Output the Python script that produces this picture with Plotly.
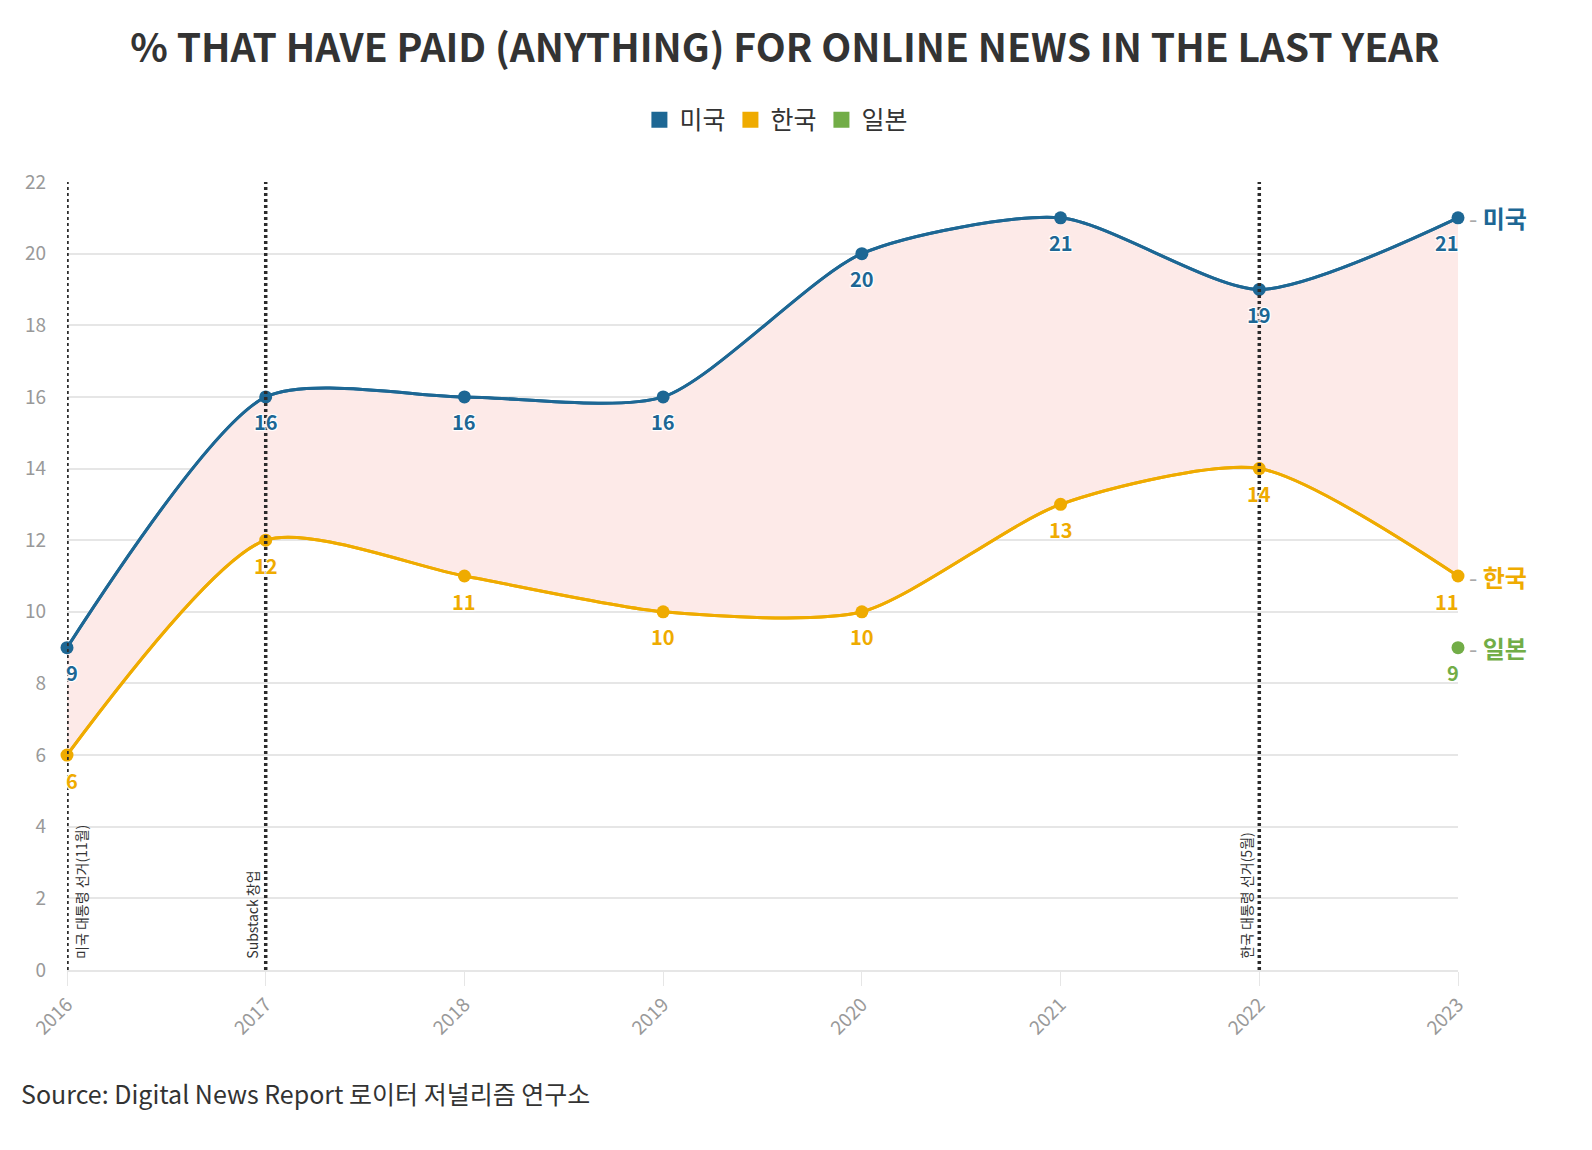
import plotly.graph_objects as go

years = [2016, 2017, 2018, 2019, 2020, 2021, 2022, 2023]
us = [9, 16, 16, 16, 20, 21, 19, 21]
kr = [6, 12, 11, 10, 10, 13, 14, 11]
jp_years = [2023]
jp = [9]

event_years = [2016, 2017, 2022]
event_labels = ["미국 대통령 선거(11월)", "Substack 창업", "한국 대통령 선거(5월)"]

C_US = "#1d6794"
C_KR = "#efab00"
C_JP = "#72ad47"
FILL = "#fdeae8"
FONT = "Noto Sans CJK KR"
HALO = "1px 1px 1px #fff, -1px -1px 1px #fff, 1px -1px 1px #fff, -1px 1px 1px #fff"
SMOOTH = 0.7

W, H = 1584, 1142  # page body has an 8px margin

fig = go.Figure()

fig.add_trace(go.Scatter(
    x=years, y=kr, mode="lines", line=dict(color=C_KR, width=3, shape="spline", smoothing=SMOOTH),
    showlegend=False, hoverinfo="skip"))
fig.add_trace(go.Scatter(
    x=years, y=us, mode="lines", line=dict(color=C_US, width=3, shape="spline", smoothing=SMOOTH),
    fill="tonexty", fillcolor=FILL, showlegend=False, hoverinfo="skip"))
fig.add_trace(go.Scatter(
    x=years, y=us, mode="lines+markers", line=dict(color=C_US, width=3, shape="spline", smoothing=SMOOTH),
    marker=dict(size=13, color=C_US), cliponaxis=False, showlegend=False, name="미국"))
fig.add_trace(go.Scatter(
    x=years, y=kr, mode="lines+markers", line=dict(color=C_KR, width=3, shape="spline", smoothing=SMOOTH),
    marker=dict(size=13, color=C_KR), cliponaxis=False, showlegend=False, name="한국"))
fig.add_trace(go.Scatter(
    x=jp_years, y=jp, mode="markers", marker=dict(size=13, color=C_JP),
    cliponaxis=False, showlegend=False, name="일본"))

# legend-only entries
for name, col in [("미국", C_US), ("한국", C_KR), ("일본", C_JP)]:
    fig.add_trace(go.Scatter(x=[None], y=[None], mode="markers", name=name,
                             marker=dict(symbol="square", size=20, color=col)))

# data labels
for xs, ys, col in [(years, us, C_US), (years, kr, C_KR), (jp_years, jp, C_JP)]:
    for xv, yv in zip(xs, ys):
        if xv == years[0]:
            anchor, shift = "left", -3
        elif xv == years[-1]:
            anchor, shift = "right", 3
        else:
            anchor, shift = "center", 0
        fig.add_annotation(x=xv, y=yv, xref="x", yref="y", text=f"<b>{yv}</b>", showarrow=False,
                           xanchor=anchor, yanchor="middle", xshift=shift, yshift=-25,
                           font=dict(size=20, color=col, family=FONT, shadow=HALO))

# event lines
for yr, lab in zip(event_years, event_labels):
    fig.add_shape(type="line", x0=yr, x1=yr, y0=0, y1=22, xref="x", yref="y",
                  line=dict(color="#2b2b2b", width=3.5, dash="3px,3px"), layer="above")
    left = yr == years[0]
    fig.add_annotation(x=yr, y=0, xref="x", yref="y", text=lab, textangle=-90,
                       showarrow=False, xanchor="left" if left else "right",
                       yanchor="bottom", xshift=2 if left else -2, yshift=9,
                       font=dict(size=14, color="#333333", family=FONT))

# end labels
for name, col, val in [("미국", C_US, us[-1]), ("한국", C_KR, kr[-1]), ("일본", C_JP, jp[-1])]:
    fig.add_annotation(x=years[-1], y=val, xref="x", yref="y",
                       text=f"<span style='color:#aaaaaa;font-weight:normal'>-</span> <b>{name}</b>",
                       showarrow=False, xanchor="left", xshift=9,
                       font=dict(size=24, color=col, family=FONT))

fig.add_annotation(x=-0.0342, y=-0.156, xref="paper", yref="paper", xanchor="left", yanchor="middle",
                   text="Source: Digital News Report 로이터 저널리즘 연구소", showarrow=False,
                   font=dict(size=25, color="#333333", family=FONT))

fig.update_layout(
    width=W, height=H,
    margin=dict(l=59, r=134, t=174, b=180),
    paper_bgcolor="white", plot_bgcolor="white",
    font=dict(family=FONT, color="#333333"),
    title=dict(text="<b>% THAT HAVE PAID (ANYTHING) FOR ONLINE NEWS IN THE LAST YEAR</b>",
               x=(785 - 8) / W, xanchor="center", y=1 - 40 / H, yanchor="middle",
               font=dict(size=39, color="#333333", family=FONT)),
    legend=dict(orientation="h", x=0.51, xanchor="center", y=1.0787, yanchor="middle",
                traceorder="normal",
                font=dict(size=25, color="#333333", family=FONT), itemwidth=30),
    xaxis=dict(range=[2016, 2023], tickmode="array", tickvals=years, ticktext=[str(y) for y in years],
               tickangle=-45, showgrid=False, zeroline=False, ticks="outside", ticklen=14,
               tickcolor="#e6e6e6", tickfont=dict(size=19, color="#999999"),
               showline=True, linecolor="#e6e6e6", linewidth=2),
    yaxis=dict(range=[0, 22], dtick=2, showgrid=True, gridcolor="#e6e6e6", gridwidth=2,
               zeroline=False, tickfont=dict(size=19, color="#999999"), ticks="", ticklabelstandoff=20),
)

fig.write_html("out.html")
